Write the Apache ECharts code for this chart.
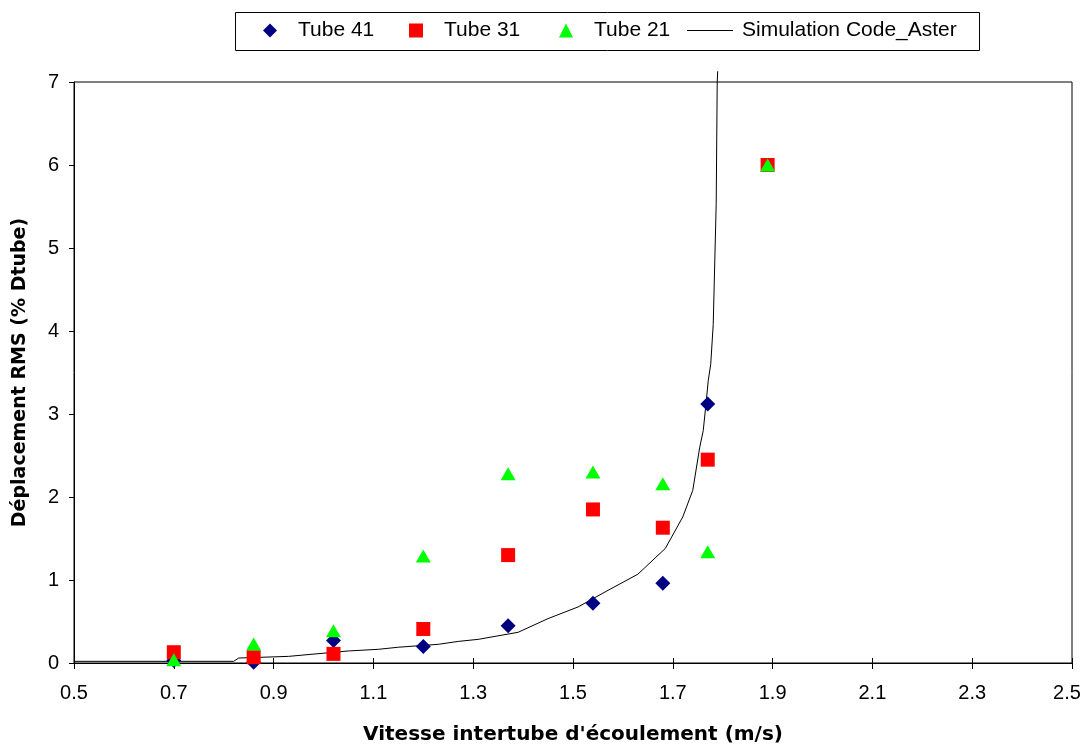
<!DOCTYPE html>
<html>
<head>
<meta charset="utf-8">
<script src="https://cdn.jsdelivr.net/npm/echarts@6/dist/echarts.min.js"></script>
<style>
html,body{margin:0;padding:0;background:#fff;}
#chart{width:1081px;height:746px;}
</style>
</head>
<body>
<div id="chart"></div>
<script>
// ---- data ----
var xTicks = [0.5, 0.7, 0.9, 1.1, 1.3, 1.5, 1.7, 1.9, 2.1, 2.3, 2.5];
var yTicks = [0, 1, 2, 3, 4, 5, 6, 7];

var tube41X = [0.70, 0.86, 1.02, 1.20, 1.37, 1.54, 1.68, 1.77];
var tube41Y = [0.03, 0.01, 0.27, 0.20, 0.45, 0.72, 0.96, 3.12];

var tube31X = [0.70, 0.86, 1.02, 1.20, 1.37, 1.54, 1.68, 1.77, 1.89];
var tube31Y = [0.13, 0.07, 0.11, 0.41, 1.30, 1.85, 1.63, 2.45, 6.00];

var tube21X = [0.70, 0.86, 1.02, 1.20, 1.37, 1.54, 1.68, 1.77, 1.89];
var tube21Y = [0.04, 0.23, 0.39, 1.29, 2.28, 2.30, 2.16, 1.34, 6.00];

var simX = [0.50, 0.82, 0.83, 0.93, 1.05, 1.11, 1.15, 1.23, 1.27, 1.31, 1.39, 1.45, 1.51, 1.57, 1.63, 1.685, 1.72, 1.74, 1.754, 1.761, 1.767, 1.771, 1.776, 1.781, 1.787, 1.789, 1.790];
var simY = [0.02, 0.02, 0.06, 0.08, 0.145, 0.165, 0.19, 0.225, 0.26, 0.285, 0.37, 0.535, 0.675, 0.875, 1.07, 1.38, 1.76, 2.08, 2.60, 2.80, 3.15, 3.40, 3.60, 4.08, 5.54, 7.00, 7.13];

function pairs(xs, ys){ return xs.map(function(x,i){ return [x, ys[i]]; }); }

var FONT = 'Liberation Sans, Arial, sans-serif';
var BOLDFONT = 'DejaVu Sans, Liberation Sans, sans-serif';
var chart = echarts.init(document.getElementById('chart'), null, {renderer:'canvas'});

var legendBase = {
  orient: 'horizontal', itemHeight: 14, itemWidth: 14, top: 15, selectedMode: false,
  textStyle: {fontFamily: FONT, fontSize: 21, color: '#000', padding: [0,0,0,16]}
};

var option = {
  backgroundColor: '#fff',
  animation: false,
  graphic: [{
    type: 'rect', left: 233, top: 10, shape: {width: 744, height: 38},
    style: {fill: 'none', stroke: '#000', lineWidth: 1}
  }],
  legend: [
    Object.assign({}, legendBase, {left: 258, data: [{name: 'Tube 41', icon: 'diamond'}]}),
    Object.assign({}, legendBase, {left: 404, data: [{name: 'Tube 31', icon: 'rect'}]}),
    Object.assign({}, legendBase, {left: 554, data: [{name: 'Tube 21', icon: 'triangle'}]}),
    Object.assign({}, legendBase, {left: 682, itemWidth: 46, itemHeight: 2,
      textStyle: {fontFamily: FONT, fontSize: 21, color: '#000', padding: [0,0,0,4]},
      data: [{name: 'Simulation Code_Aster', icon: 'path://M0,0 L46,0 L46,1 L0,1 Z'}]})
  ],
  grid: {left: 74, right: 9, top: 82, bottom: 83, show: true, borderColor: '#000', borderWidth: 1,
    backgroundColor: '#fff', containLabel: false, outerBoundsMode: 'none'},
  xAxis: [{
    type: 'value', min: 0.5, max: 2.5, interval: 0.2,
    name: "Vitesse intertube d'écoulement (m/s)", nameLocation: 'middle', nameGap: 62,
    nameTextStyle: {fontFamily: BOLDFONT, fontSize: 20, fontWeight: 'bold', color: '#000'},
    axisLine: {lineStyle: {color: '#000', width: 1}},
    axisTick: {show: true, length: 6, lineStyle: {color: '#000'}},
    axisLabel: {fontFamily: FONT, fontSize: 20, color: '#000', margin: 20,
      formatter: function(v){
        var t = xTicks.find(function(k){return Math.abs(k-v)<1e-6;});
        if (t === undefined) return '';
        return t === xTicks[xTicks.length-1] ? '{last|' + t + '}' : String(t);
      },
      rich: {last: {fontFamily: FONT, fontSize: 20, color: '#000', padding: [0,10,0,0]}}
    },
    splitLine: {show: false}
  }, {
    type: 'value', min: 0.5, max: 2.5, interval: 0.2, position: 'bottom',
    axisLine: {show: false},
    axisTick: {show: true, inside: true, length: 5, lineStyle: {color: '#000'}},
    axisLabel: {show: false}, splitLine: {show: false}
  }],
  yAxis: {
    type: 'value', min: 0, max: 7, interval: 1,
    name: 'Déplacement RMS (% Dtube)', nameLocation: 'middle', nameGap: 44,
    nameTextStyle: {fontFamily: BOLDFONT, fontSize: 19, fontWeight: 'bold', color: '#000'},
    axisLine: {show: true, lineStyle: {color: '#000', width: 1}},
    axisTick: {show: true, length: 5, lineStyle: {color: '#000'}},
    axisLabel: {fontFamily: FONT, fontSize: 20, color: '#000', margin: 15,
      formatter: function(v){ return yTicks.indexOf(v) >= 0 ? String(v) : ''; }},
    splitLine: {show: false}
  },
  series: [
    {name: 'Simulation Code_Aster', type: 'line', data: pairs(simX, simY), showSymbol: false, symbol: 'none',
     clip: false, lineStyle: {color: '#000', width: 1}, itemStyle: {color: '#000'}, z: 1},
    {name: 'Tube 41', type: 'scatter', data: pairs(tube41X, tube41Y), symbol: 'diamond', symbolSize: [15,15],
     itemStyle: {color: '#000080', opacity: 1}, z: 2},
    {name: 'Tube 31', type: 'scatter', data: pairs(tube31X, tube31Y), symbol: 'rect', symbolSize: [14,14],
     itemStyle: {color: '#FF0000', opacity: 1}, z: 3},
    {name: 'Tube 21', type: 'scatter', data: pairs(tube21X, tube21Y), symbol: 'triangle', symbolSize: [15,13],
     itemStyle: {color: '#00FF00', opacity: 1}, z: 4}
  ]
};
chart.setOption(option);
</script>
</body>
</html>
